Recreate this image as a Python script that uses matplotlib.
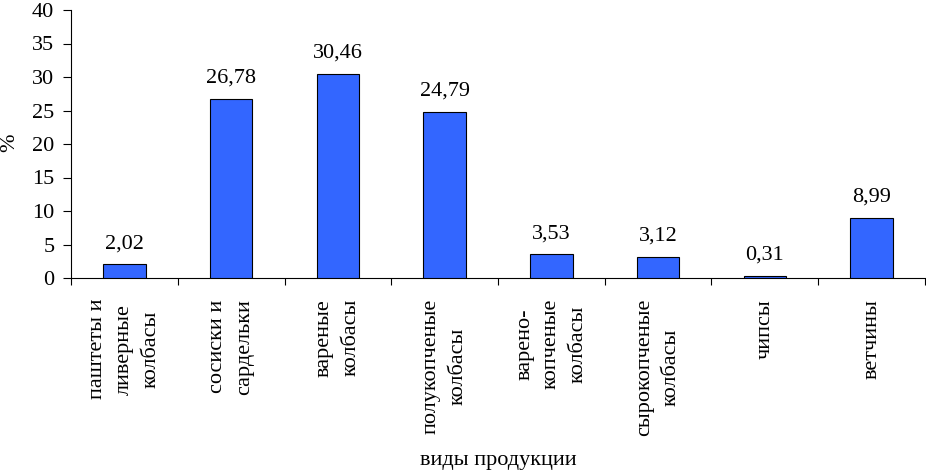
import numpy as np
import matplotlib
matplotlib.use("Agg")
import matplotlib.pyplot as plt

plt.rcParams['font.family'] = ['Liberation Serif', 'DejaVu Serif']

# Data
categories = ["паштеты и\nливерные\nколбасы", "сосиски и\nсардельки", "вареные\nколбасы",
              "полукопченые\nколбасы", "варено-\nкопченые\nколбасы", "сырокопченые\nколбасы",
              "чипсы", "ветчины"]
values = [2.02, 26.78, 30.46, 24.79, 3.53, 3.12, 0.31, 8.99]
value_labels = ["2,02", "26,78", "30,46", "24,79", "3,53", "3,12", "0,31", "8,99"]
y_ticks = [0, 5, 10, 15, 20, 25, 30, 35, 40]

fig = plt.figure(figsize=(9.26, 4.71), dpi=100)
ax = fig.add_axes([71 / 926, 1 - 278 / 471, 854 / 926, 268 / 471])

x = np.arange(len(categories))
ax.bar(x, values, width=0.4, color='#3366FF', edgecolor='black', linewidth=0.8, zorder=3)

# value labels above bars
for xi, v, lab in zip(x, values, value_labels):
    ax.annotate(lab, (xi, v), xytext=(0, 8), textcoords='offset points',
                ha='center', va='bottom', fontsize=16)

ax.set_xlim(-0.5, len(categories) - 0.5)
ax.set_ylim(0, 40)
ax.set_yticks(y_ticks)
ax.tick_params(axis='y', labelsize=16, length=6, width=0.8, pad=6)

# major ticks at category boundaries, labels on minor ticks at centres
ax.set_xticks(np.arange(len(categories) + 1) - 0.5)
ax.set_xticklabels([])
ax.tick_params(axis='x', which='major', length=5, width=0.8)
ax.set_xticks(x, minor=True)
ax.set_xticklabels(categories, minor=True, rotation=90, fontsize=16,
                   va='top', ha='center', multialignment='center', linespacing=1.55)
ax.tick_params(axis='x', which='minor', length=0, pad=15)

ax.spines['top'].set_visible(False)
ax.spines['right'].set_visible(False)
for s in ['left', 'bottom']:
    ax.spines[s].set_linewidth(0.8)

fig.text(10 / 926, 1 - 143 / 471, "%", rotation=90, ha='center', va='center', fontsize=16)
fig.text(498 / 926, 1 - 460 / 471, "виды продукции", ha='center', va='center', fontsize=16)

fig.savefig("out.png", dpi=100)
